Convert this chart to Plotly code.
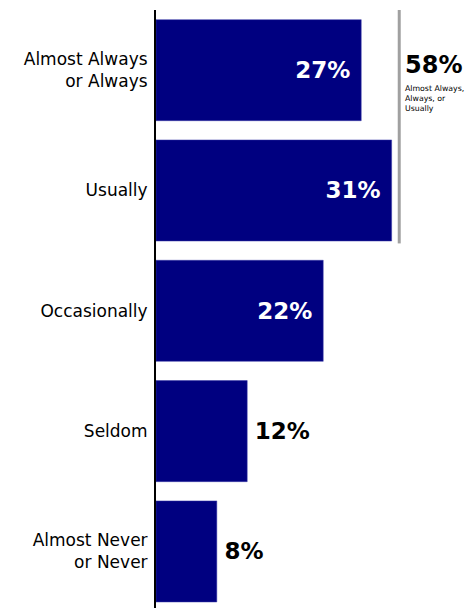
import plotly.graph_objects as go

categories = ["Almost Always<br>or Always", "Usually", "Occasionally", "Seldom", "Almost Never<br>or Never"]
values = [27, 31, 22, 12, 8]
labels = ["27%", "31%", "22%", "12%", "8%"]
text_pos = ["inside", "inside", "inside", "outside", "outside"]
text_colors = ["white", "white", "white", "black", "black"]

combined_label = "58%"
combined_note = "Almost Always,<br>Always, or<br>Usually"


def bar_text(label, pos):
    # a bit of padding between the label and the bar end
    if pos == "inside":
        return "<b>" + label + "\u00a0</b>"
    return "<b>\u2009" + label + "</b>"


fig = go.Figure()
fig.add_bar(
    x=values,
    y=categories,
    orientation="h",
    text=[bar_text(t, p) for t, p in zip(labels, text_pos)],
    textposition=text_pos,
    insidetextanchor="end",
    textfont=dict(family="DejaVu Sans", size=23, color=text_colors),
    outsidetextfont=dict(family="DejaVu Sans", size=23, color="black"),
    marker=dict(color="#000080", line=dict(color="#3a3aa8", width=0.5)),
    cliponaxis=False,
)

# bracket for the combined top two categories
fig.add_shape(
    type="line", xref="x", yref="y",
    x0=32.0, x1=32.0, y0=-0.53, y1=1.44,
    line=dict(color="#a0a0a0", width=3),
)
fig.add_annotation(
    x=32.5, y=-0.04, xref="x", yref="y", xanchor="left", yanchor="middle",
    text="<b>" + combined_label + "</b>", showarrow=False,
    font=dict(family="DejaVu Sans", size=24, color="black"),
)
fig.add_annotation(
    x=32.45, y=0.1, xref="x", yref="y", xanchor="left", yanchor="top",
    text=combined_note, showarrow=False, align="left",
    font=dict(family="DejaVu Sans", size=7.8, color="black"),
)

fig.update_layout(
    width=468, height=600,
    template="plotly_white",
    showlegend=False,
    bargap=0.16,
    margin=dict(l=148, r=0, t=2, b=0),
    plot_bgcolor="white",
    paper_bgcolor="white",
    font=dict(family="DejaVu Sans", size=17, color="black"),
)
fig.update_xaxes(range=[0, 42.1], visible=False, showgrid=False, zeroline=False)
fig.update_yaxes(
    autorange=False, range=[4.47, -0.5], showgrid=False, zeroline=False,
    showline=True, linecolor="black", linewidth=2,
    ticks="", ticklabelstandoff=3,
    tickfont=dict(family="DejaVu Sans", size=17, color="black"),
)

fig.write_html("out.html")
